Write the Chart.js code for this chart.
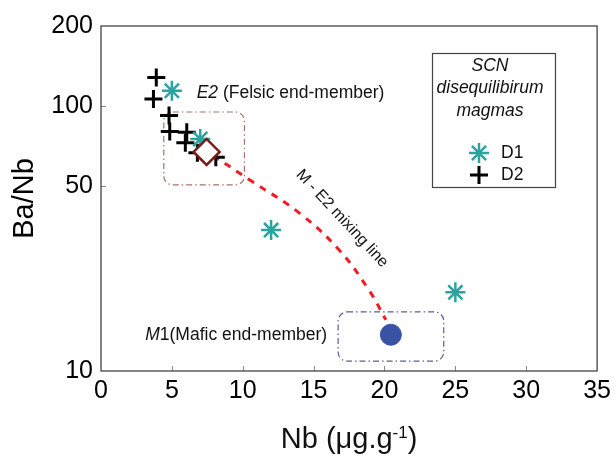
<!DOCTYPE html>
<html lang="en">
<head>
<meta charset="UTF-8">
<title>Ba/Nb vs Nb - SCN disequilibrium magmas</title>
<script src="https://cdn.jsdelivr.net/npm/chart.js@4"></script>
<style>
    html, body { margin: 0; padding: 0; background: #fff; }
    #wrap { position: relative; width: 616px; height: 457px; }
</style>
</head>
<body>
<div id="wrap"><canvas id="chart"></canvas></div>
<script>
// D1 samples (asterisks)
const d1Nb = [5.0, 7.0, 12.0, 25.0];
const d1BaNb = [114, 75, 34, 19.8];

// D2 samples (plus signs)
const d2Nb = [3.9, 3.7, 4.8, 4.85, 6.05, 5.95, 6.8, 8.1];
const d2BaNb = [128, 106, 92, 80, 79.5, 72.5, 66.5, 64];

// end-members
const e2Nb = [7.45];
const e2BaNb = [67];
const m1Nb = [20.45];
const m1BaNb = [13.7];

// M - E2 mixing curve
const mixNb = [7.9, 10.5, 14.0, 16.8, 18.9, 20.1];
const mixBaNb = [65, 52.5, 39.4, 28.6, 20.2, 15.6];

// axis ticks
const xTicks = [0, 5, 10, 15, 20, 25, 30, 35];
const yTicks = [10, 50, 100, 200];

// dash-dot boxes round the end-members: [Nb min, Nb max, Ba/Nb min, Ba/Nb max]
const e2Box = [4.43, 10.12, 50.3, 94.8];
const m1Box = [16.73, 24.18, 10.9, 16.7];

const FONT = '"Liberation Sans", Arial, sans-serif';
const TEAL = '#2ba3a0';
const toPts = (xa, ya) => xa.map((v, i) => ({ x: v, y: ya[i] }));

function roundBox(ctx, x, y, box, color) {
    const x0 = x.getPixelForValue(box[0]), x1 = x.getPixelForValue(box[1]);
    const y0 = y.getPixelForValue(box[3]), y1 = y.getPixelForValue(box[2]);
    ctx.save();
    ctx.strokeStyle = color;
    ctx.lineWidth = 1.2;
    ctx.setLineDash([6, 3, 1.5, 3]);
    ctx.beginPath();
    ctx.roundRect(x0, y0, x1 - x0, y1 - y0, 9);
    ctx.stroke();
    ctx.restore();
}

function marker(ctx, style, color, r, w, px, py) {
    ctx.save();
    ctx.strokeStyle = color;
    ctx.fillStyle = color;
    ctx.lineWidth = w;
    Chart.helpers.drawPoint(ctx, { pointStyle: style, radius: r, borderWidth: w, rotation: 0 }, px, py);
    ctx.restore();
}

const decor = {
    id: 'decor',
    beforeDatasetsDraw(chart) {
        const { ctx, scales: { x, y } } = chart;
        roundBox(ctx, x, y, e2Box, '#a8716d');
        roundBox(ctx, x, y, m1Box, '#5c5c9c');
    },
    afterDraw(chart) {
        const { ctx, chartArea: a, scales: { x, y } } = chart;
        ctx.save();

        // inward tick marks
        ctx.strokeStyle = '#888';
        ctx.lineWidth = 1;
        ctx.beginPath();
        xTicks.slice(1, -1).forEach(v => {
            const px = Math.round(x.getPixelForValue(v)) + 0.5;
            ctx.moveTo(px, a.bottom); ctx.lineTo(px, a.bottom - 5);
        });
        [50, 100].forEach(v => {
            const py = Math.round(y.getPixelForValue(v)) + 0.5;
            ctx.moveTo(a.left, py); ctx.lineTo(a.left + 5, py);
        });
        ctx.stroke();

        // frame
        ctx.strokeStyle = '#333';
        ctx.lineWidth = 1.2;
        ctx.strokeRect(a.left, a.top, a.right - a.left, a.bottom - a.top);

        // end-member labels
        ctx.fillStyle = '#111';
        ctx.textBaseline = 'middle';
        ctx.textAlign = 'left';
        let tx = x.getPixelForValue(6.75), ty = y.getPixelForValue(111.7);
        ctx.font = 'italic 17.5px ' + FONT;
        ctx.fillText('E2', tx, ty);
        tx += ctx.measureText('E2').width;
        ctx.font = '17.5px ' + FONT;
        ctx.fillText(' (Felsic end-member)', tx, ty);

        ctx.font = '17.5px ' + FONT;
        const rest = '1(Mafic end-member)';
        const wRest = ctx.measureText(rest).width;
        ctx.font = 'italic 17.5px ' + FONT;
        const wM = ctx.measureText('M').width;
        tx = x.getPixelForValue(15.95) - wRest - wM;
        ty = y.getPixelForValue(13.7);
        ctx.fillText('M', tx, ty);
        ctx.font = '17.5px ' + FONT;
        ctx.fillText(rest, tx + wM, ty);

        // mixing line label
        ctx.save();
        ctx.translate(x.getPixelForValue(17.0), y.getPixelForValue(37.6));
        ctx.rotate(47 * Math.PI / 180);
        ctx.textAlign = 'center';
        ctx.font = '16px ' + FONT;
        ctx.fillText('M - E2 mixing line', 0, 0);
        ctx.restore();

        // legend box
        ctx.strokeStyle = '#444';
        ctx.lineWidth = 1.2;
        ctx.strokeRect(432.5, 53.5, 123, 134);
        ctx.textAlign = 'center';
        ctx.font = 'italic 17.5px ' + FONT;
        ctx.fillText('SCN', 490, 66);
        ctx.fillText('disequilibirum', 490, 88);
        ctx.fillText('magmas', 490, 111);
        marker(ctx, 'star', TEAL, 10, 2.5, 479, 153);
        marker(ctx, 'cross', '#000', 9, 3, 479, 175);
        ctx.textAlign = 'left';
        ctx.fillStyle = '#111';
        ctx.font = '17.5px ' + FONT;
        ctx.fillText('D1', 501, 153);
        ctx.fillText('D2', 501, 175);

        // x axis title with superscript
        const big = '29px ' + FONT, small = '17px ' + FONT;
        ctx.font = big;
        const wA = ctx.measureText('Nb (\u03bcg.g').width;
        const wC = ctx.measureText(')').width;
        ctx.font = small;
        const wB = ctx.measureText('-1').width;
        let sx = (a.left + a.right) / 2 - (wA + wB + wC) / 2;
        const base = 448;
        ctx.textBaseline = 'alphabetic';
        ctx.font = big;
        ctx.fillText('Nb (\u03bcg.g', sx, base);
        sx += wA;
        ctx.font = small;
        ctx.fillText('-1', sx, base - 10);
        sx += wB;
        ctx.font = big;
        ctx.fillText(')', sx, base);

        ctx.restore();
    }
};

new Chart(document.getElementById('chart'), {
    type: 'scatter',
    data: {
        datasets: [
            {
                label: 'E2',
                data: toPts(e2Nb, e2BaNb),
                pointStyle: 'rectRot',
                pointRadius: 13,
                pointBackgroundColor: '#fff',
                pointBorderColor: '#7a1c1c',
                pointBorderWidth: 2.5
            },
            {
                label: 'M1',
                data: toPts(m1Nb, m1BaNb),
                pointStyle: 'circle',
                pointRadius: 10.5,
                pointBackgroundColor: '#3a52a6',
                pointBorderColor: '#3a52a6',
                pointBorderWidth: 1
            },
            {
                label: 'D1',
                data: toPts(d1Nb, d1BaNb),
                pointStyle: 'star',
                pointRadius: 10,
                pointBorderColor: TEAL,
                pointBackgroundColor: TEAL,
                pointBorderWidth: 2.5
            },
            {
                label: 'D2',
                data: toPts(d2Nb, d2BaNb),
                pointStyle: 'cross',
                pointRadius: 9,
                pointBorderColor: '#000',
                pointBackgroundColor: '#000',
                pointBorderWidth: 3
            },
            {
                type: 'line',
                label: 'M - E2 mixing line',
                data: toPts(mixNb, mixBaNb),
                borderColor: '#ee1d25',
                borderWidth: 3,
                borderDash: [7, 7],
                tension: 0.4,
                pointRadius: 0,
                fill: false
            }
        ]
    },
    options: {
        responsive: true,
        maintainAspectRatio: false,
        animation: false,
        events: [],
        layout: { padding: { top: 26, right: 17, left: 0, bottom: 0 } },
        plugins: {
            legend: { display: false },
            tooltip: { enabled: false }
        },
        scales: {
            x: {
                type: 'linear',
                min: 0,
                max: 35,
                afterBuildTicks: s => { s.ticks = xTicks.map(v => ({ value: v })); },
                afterFit: s => { s.height = 86; },
                grid: { display: false, drawTicks: false },
                border: { display: false },
                ticks: {
                    padding: 5,
                    color: '#000',
                    maxRotation: 0,
                    font: { family: FONT, size: 25 }
                }
            },
            y: {
                type: 'logarithmic',
                min: 10,
                max: 200,
                afterBuildTicks: s => { s.ticks = yTicks.map(v => ({ value: v })); },
                afterFit: s => { s.width = 101; },
                grid: { display: false, drawTicks: false },
                border: { display: false },
                ticks: {
                    padding: 8,
                    color: '#000',
                    callback: v => String(v),
                    font: { family: FONT, size: 25 }
                },
                title: {
                    display: true,
                    text: 'Ba/Nb',
                    color: '#000',
                    padding: { top: 8, bottom: 0 },
                    font: { family: FONT, size: 29 }
                }
            }
        }
    },
    plugins: [decor]
});
</script>
</body>
</html>
